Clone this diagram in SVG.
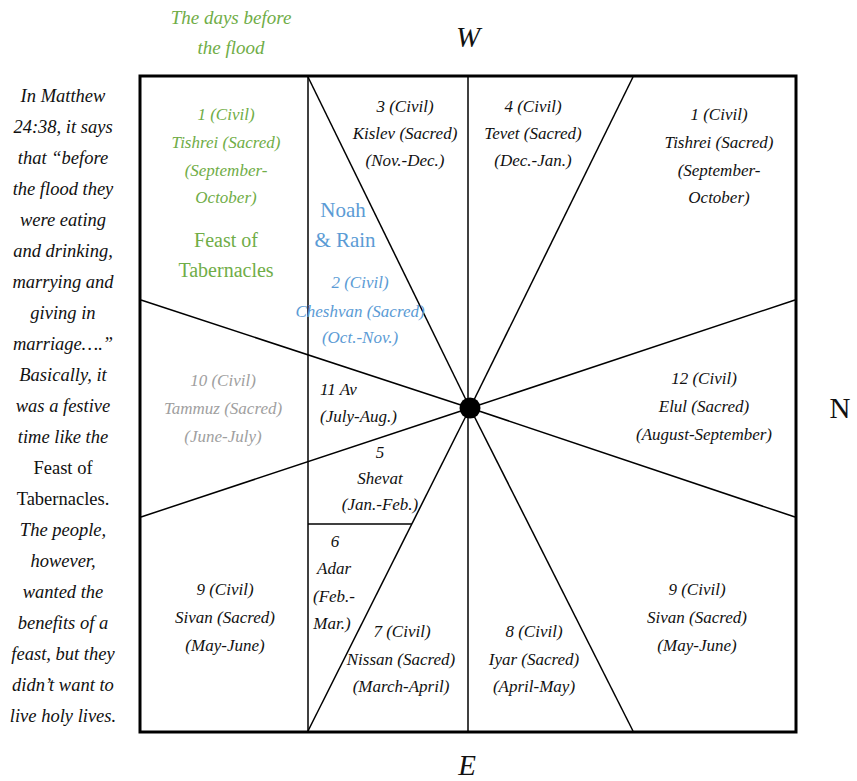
<svg xmlns="http://www.w3.org/2000/svg" width="857" height="781" viewBox="0 0 857 781">
<style>
text{font-family:"Liberation Serif","Times New Roman",serif;text-anchor:middle;}
.m{font-size:17px;font-style:italic;fill:#111;}
.side{font-size:18.5px;font-style:italic;fill:#111;}
.up{font-style:normal;}
.dir{font-size:29px;fill:#111;}
.g{fill:#70ad47;}
.b{fill:#5b9bd5;}
.gr{fill:#a0a0a0;}
.ln{stroke:#000;stroke-width:1.5;fill:none;}
</style>
<rect x="0" y="0" width="857" height="781" fill="#fff"/>

<g id="frame">
<rect x="140" y="76" width="656" height="656" fill="none" stroke="#000" stroke-width="3"/>
</g>

<g id="connectors">
<line class="ln" x1="308" y1="76" x2="308" y2="732"/>
<line class="ln" x1="468" y1="76" x2="468" y2="732"/>
<line class="ln" x1="308" y1="77" x2="470" y2="408"/>
<line class="ln" x1="633" y1="77" x2="470" y2="408"/>
<line class="ln" x1="308" y1="731" x2="470" y2="408"/>
<line class="ln" x1="633" y1="731" x2="470" y2="408"/>
<line class="ln" x1="141" y1="300" x2="470" y2="408"/>
<line class="ln" x1="141" y1="517" x2="470" y2="408"/>
<line class="ln" x1="795" y1="300" x2="470" y2="408"/>
<line class="ln" x1="795" y1="517" x2="470" y2="408"/>
<line class="ln" x1="308" y1="524" x2="412" y2="524"/>
<circle cx="470" cy="408" r="10.5" fill="#000"/>
</g>

<g id="title">
<text class="side g" x="231" y="24" style="font-size:19px">The days before</text>
<text class="side g" x="231" y="54" style="font-size:19px">the flood</text>
</g>

<g id="directions">
<text class="dir" x="468" y="47" style="font-style:italic">W</text>
<text class="dir" x="840" y="418">N</text>
<text class="dir" x="467" y="775" style="font-style:italic">E</text>
</g>

<g id="sidenote">
<text class="side" x="63" y="102">In Matthew</text>
<text class="side" x="63" y="133">24:38, it says</text>
<text class="side" x="63" y="164">that “before</text>
<text class="side" x="63" y="195">the flood they</text>
<text class="side" x="63" y="226">were eating</text>
<text class="side" x="63" y="257">and drinking,</text>
<text class="side" x="63" y="288">marrying and</text>
<text class="side" x="63" y="319">giving in</text>
<text class="side" x="63" y="350">marriage….”</text>
<text class="side" x="63" y="381">Basically, it</text>
<text class="side" x="63" y="412">was a festive</text>
<text class="side" x="63" y="443">time like the</text>
<text class="side up" x="63" y="474">Feast of</text>
<text class="side up" x="63" y="505">Tabernacles.</text>
<text class="side" x="63" y="536">The people,</text>
<text class="side" x="63" y="567">however,</text>
<text class="side" x="63" y="598">wanted the</text>
<text class="side" x="63" y="629">benefits of a</text>
<text class="side" x="63" y="660">feast, but they</text>
<text class="side" x="63" y="691">didn’t want to</text>
<text class="side" x="63" y="722">live holy lives.</text>
</g>

<g id="tishrei-left">
<text class="m g" x="226" y="120">1 (Civil)</text>
<text class="m g" x="226" y="148">Tishrei (Sacred)</text>
<text class="m g" x="226" y="176">(September-</text>
<text class="m g" x="226" y="203">October)</text>
<text class="g" x="226" y="247" style="font-size:20px">Feast of</text>
<text class="g" x="226" y="277" style="font-size:20px">Tabernacles</text>
</g>

<g id="noah">
<text class="b" x="343" y="217" style="font-size:21px">Noah</text>
<text class="b" x="345" y="247" style="font-size:21px">&amp; Rain</text>
</g>

<g id="cheshvan">
<text class="m b" x="360" y="288">2 (Civil)</text>
<text class="m b" x="360" y="317">Cheshvan (Sacred)</text>
<text class="m b" x="360" y="343">(Oct.-Nov.)</text>
</g>

<g id="kislev">
<text class="m" x="405" y="112">3 (Civil)</text>
<text class="m" x="405" y="139">Kislev (Sacred)</text>
<text class="m" x="405" y="166">(Nov.-Dec.)</text>
</g>

<g id="tevet">
<text class="m" x="533" y="112">4 (Civil)</text>
<text class="m" x="533" y="139">Tevet (Sacred)</text>
<text class="m" x="533" y="166">(Dec.-Jan.)</text>
</g>

<g id="tishrei-right">
<text class="m" x="719" y="120">1 (Civil)</text>
<text class="m" x="719" y="148">Tishrei (Sacred)</text>
<text class="m" x="719" y="176">(September-</text>
<text class="m" x="719" y="203">October)</text>
</g>

<g id="tammuz">
<text class="m gr" x="223" y="386">10 (Civil)</text>
<text class="m gr" x="223" y="414">Tammuz (Sacred)</text>
<text class="m gr" x="223" y="442">(June-July)</text>
</g>

<g id="av">
<text class="m" x="320" y="395" style="text-anchor:start">11 Av</text>
<text class="m" x="320" y="422" style="text-anchor:start">(July-Aug.)</text>
</g>

<g id="shevat">
<text class="m" x="380" y="458">5</text>
<text class="m" x="380" y="484">Shevat</text>
<text class="m" x="380" y="510">(Jan.-Feb.)</text>
</g>

<g id="adar">
<text class="m" x="335" y="547">6</text>
<text class="m" x="334" y="574">Adar</text>
<text class="m" x="334" y="602">(Feb.-</text>
<text class="m" x="332" y="629">Mar.)</text>
</g>

<g id="nissan">
<text class="m" x="402" y="637">7 (Civil)</text>
<text class="m" x="401" y="665">Nissan (Sacred)</text>
<text class="m" x="401" y="692">(March-April)</text>
</g>

<g id="iyar">
<text class="m" x="534" y="637">8 (Civil)</text>
<text class="m" x="534" y="665">Iyar (Sacred)</text>
<text class="m" x="534" y="692">(April-May)</text>
</g>

<g id="elul">
<text class="m" x="704" y="384">12 (Civil)</text>
<text class="m" x="704" y="412">Elul (Sacred)</text>
<text class="m" x="704" y="440">(August-September)</text>
</g>

<g id="sivan-left">
<text class="m" x="225" y="595">9 (Civil)</text>
<text class="m" x="225" y="623">Sivan (Sacred)</text>
<text class="m" x="225" y="651">(May-June)</text>
</g>

<g id="sivan-right">
<text class="m" x="697" y="595">9 (Civil)</text>
<text class="m" x="697" y="623">Sivan (Sacred)</text>
<text class="m" x="697" y="651">(May-June)</text>
</g>
</svg>
